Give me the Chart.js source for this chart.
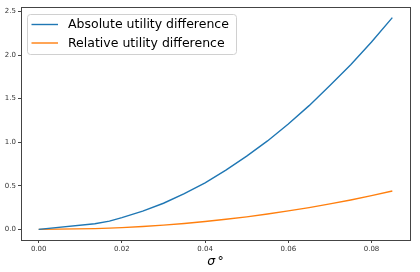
<!DOCTYPE html>
<html>
<head>
<meta charset="utf-8">
<script src="https://cdn.jsdelivr.net/npm/chart.js@4.4.0/dist/chart.umd.min.js"></script>
<style>
  html, body { margin: 0; padding: 0; background: #fff; }
  #wrap { width: 420px; height: 272px; }
</style>
</head>
<body>
<div id="wrap"><canvas id="chart"></canvas></div>
<script>
// values
const sigma = [0, 0.0135, 0.017, 0.02, 0.025, 0.03, 0.035, 0.04, 0.045, 0.05, 0.055, 0.06, 0.065, 0.07, 0.075, 0.08, 0.085];
const absoluteDiff = [0, 0.065, 0.095, 0.135, 0.21, 0.30, 0.41, 0.535, 0.68, 0.84, 1.015, 1.21, 1.42, 1.65, 1.89, 2.15, 2.43];
const relativeDiff = [0, 0.009, 0.015, 0.021, 0.034, 0.049, 0.068, 0.090, 0.116, 0.144, 0.176, 0.212, 0.250, 0.293, 0.338, 0.387, 0.44];
const xTicks = [0, 0.02, 0.04, 0.06, 0.08];
const yTicks = [0, 0.5, 1.0, 1.5, 2.0, 2.5];
const seriesLabels = ['Absolute utility difference', 'Relative utility difference'];
const seriesColors = ['#1f77b4', '#ff7f0e'];

const toPoints = (ys) => sigma.map((s, i) => ({ x: s, y: ys[i] }));

// frame around the plot area, like matplotlib spines
const framePlugin = {
    id: 'frame',
    afterDraw: (chart) => {
        const { ctx, chartArea: a } = chart;
        ctx.save();
        ctx.strokeStyle = '#444';
        ctx.lineWidth = 1;
        ctx.strokeRect(a.left + 0.5, a.top + 0.5, a.right - a.left, a.bottom - a.top);
        ctx.restore();
    }
};

// legend box drawn inside the plot, upper left
const insideLegend = {
    id: 'insideLegend',
    afterDraw: (chart) => {
        const { ctx, chartArea: a } = chart;
        const x0 = a.left + 6, y0 = a.top + 7, w = 209, h = 40;
        ctx.save();
        ctx.fillStyle = 'rgba(255,255,255,0.85)';
        ctx.strokeStyle = '#d0d0d0';
        ctx.lineWidth = 1;
        ctx.beginPath();
        ctx.roundRect(x0 + 0.5, y0 + 0.5, w, h, 3);
        ctx.fill();
        ctx.stroke();
        ctx.font = '12.5px "DejaVu Sans"';
        ctx.textBaseline = 'middle';
        chart.data.datasets.forEach((ds, i) => {
            const y = y0 + 10.5 + i * 18.5;
            ctx.strokeStyle = ds.borderColor;
            ctx.lineWidth = 1.4;
            ctx.beginPath();
            ctx.moveTo(x0 + 4.5, y);
            ctx.lineTo(x0 + 31, y);
            ctx.stroke();
            ctx.fillStyle = '#000';
            ctx.fillText(ds.label, x0 + 41, y + 0.5);
        });
        ctx.restore();
    }
};

const tickFont = { family: 'DejaVu Sans', size: 7 };

new Chart(document.getElementById('chart'), {
    type: 'line',
    data: {
        datasets: [
            { label: seriesLabels[0], data: toPoints(absoluteDiff), borderColor: seriesColors[0], borderWidth: 1.4, pointRadius: 0, tension: 0, fill: false },
            { label: seriesLabels[1], data: toPoints(relativeDiff), borderColor: seriesColors[1], borderWidth: 1.4, pointRadius: 0, tension: 0, fill: false }
        ]
    },
    options: {
        responsive: true,
        maintainAspectRatio: false,
        animation: false,
        layout: { padding: { left: 0, right: 10, top: 7, bottom: 0 } },
        plugins: { legend: { display: false }, tooltip: { enabled: false } },
        scales: {
            x: {
                type: 'linear',
                min: -0.00425,
                max: 0.08925,
                afterBuildTicks: (scale) => { scale.ticks = xTicks.map(v => ({ value: v })); },
                afterFit: (scale) => { scale.height = 32; },
                ticks: { font: tickFont, color: '#333', padding: 2, maxRotation: 0, callback: (v) => v.toFixed(2) },
                grid: { drawOnChartArea: false, drawTicks: true, tickLength: 3, color: '#444' },
                border: { display: false },
                title: { display: true, text: 'σ\u2009°', font: { family: 'DejaVu Sans', size: 12.5, style: 'italic' }, color: '#000', padding: { top: 0, bottom: 3 } }
            },
            y: {
                type: 'linear',
                min: -0.1215,
                max: 2.5515,
                afterBuildTicks: (scale) => { scale.ticks = yTicks.map(v => ({ value: v })); },
                afterFit: (scale) => { scale.width = 21; },
                ticks: { font: tickFont, color: '#333', padding: 2, callback: (v) => v.toFixed(1) },
                grid: { drawOnChartArea: false, drawTicks: true, tickLength: 3, color: '#444' },
                border: { display: false }
            }
        }
    },
    plugins: [framePlugin, insideLegend]
});
</script>
</body>
</html>
